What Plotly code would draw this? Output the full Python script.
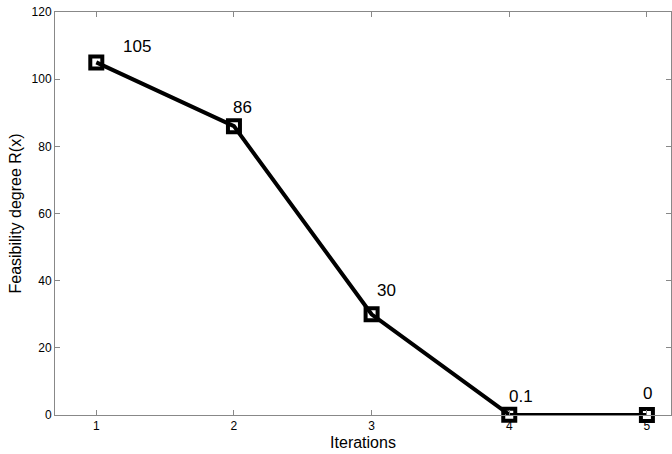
import plotly.graph_objects as go

iterations = [1, 2, 3, 4, 5]
feasibility = [105, 86, 30, 0.1, 0]
labels = ["105", "86", "30", "0.1", "0"]
label_dx = [41, 9, 15, 12, 1]
label_dy = [16, 19, 24, 18, 22]

FONT = "Liberation Sans, Arial"

fig = go.Figure()
fig.add_trace(go.Scatter(
    x=iterations, y=feasibility, mode="lines+markers",
    line=dict(color="black", width=4),
    marker=dict(symbol="square-open", size=12, color="black", line=dict(width=4, color="black")),
    cliponaxis=False, showlegend=False,
))
for xv, yv, t, dx, dy in zip(iterations, feasibility, labels, label_dx, label_dy):
    fig.add_annotation(x=xv, y=yv, text=t, showarrow=False, xshift=dx, yshift=dy,
                       font=dict(size=17, color="black", family=FONT))

axis_common = dict(showline=True, linecolor="#888888", linewidth=1, mirror="ticks",
                   ticks="inside", ticklen=5, tickcolor="#888888", showgrid=False,
                   zeroline=False, tickfont=dict(size=12, color="black", family=FONT))
fig.update_xaxes(range=[0.7, 5.175], tickvals=[1, 2, 3, 4, 5], **axis_common,
                 title=dict(text="Iterations", font=dict(size=16, color="black", family=FONT), standoff=4))
fig.update_yaxes(range=[0, 120], tickvals=[0, 20, 40, 60, 80, 100, 120], **axis_common,
                 title=dict(text="Feasibility degree R(x)", font=dict(size=16, color="black", family=FONT), standoff=5))
fig.update_layout(width=672, height=454, margin=dict(l=55, r=1, t=12, b=39),
                  plot_bgcolor="white", paper_bgcolor="white")
fig.write_html("out.html", config={"displayModeBar": False},
               post_script="document.body.style.margin='0';document.body.style.overflow='hidden';")
